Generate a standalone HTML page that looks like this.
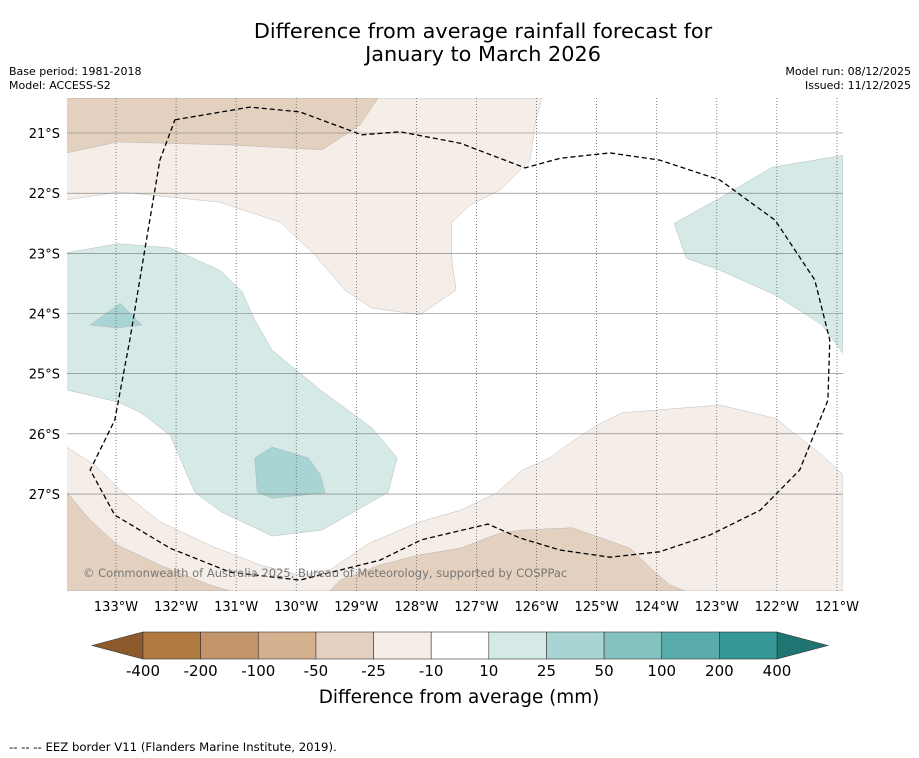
<!DOCTYPE html>
<html><head><meta charset="utf-8"><style>
body{margin:0;background:#fff;font-family:"DejaVu Sans","Liberation Sans",sans-serif;}
svg{display:block}
</style></head><body>
<svg width="919" height="758" viewBox="0 0 919 758" id="chart">
<text x="483" y="38" text-anchor="middle" font-size="20.8">Difference from average rainfall forecast for</text>
<text x="483" y="61" text-anchor="middle" font-size="20.8">January to March 2026</text>
<text x="9" y="75" font-size="11">Base period: 1981-2018</text>
<text x="9" y="89" font-size="11">Model: ACCESS-S2</text>
<text x="911" y="75" font-size="11" text-anchor="end">Model run: 08/12/2025</text>
<text x="911" y="89" font-size="11" text-anchor="end">Issued: 11/12/2025</text>
<g id="map"></g>
<g id="cbar"></g>
<text x="459" y="703" text-anchor="middle" font-size="18.4">Difference from average (mm)</text>
<text x="9" y="751" font-size="11.7">--  --  -- EEZ border V11 (Flanders Marine Institute, 2019).</text>
</svg>
<script>
const lonTicks=[133,132,131,130,129,128,127,126,125,124,123,122,121];
const latTicks=[21,22,23,24,25,26,27];
const cbLabels=["-400","-200","-100","-50","-25","-10","10","25","50","100","200","400"];
const cbColors=["#b07a40","#c3956a","#d5b08e","#e3d0bf","#f5eee8","#ffffff","#d5e9e7","#a8d5d4","#84c2c0","#5aacaa","#339896"];
// contour polygons [lonW, latS]
const lightTanTop=[[133.82,20.42],[125.91,20.42],[126.01,20.78],[126.11,21.45],[126.61,21.95],[127.11,22.20],[127.41,22.48],[127.41,23.11],[127.34,23.61],[127.94,24.02],[128.74,23.91],[129.19,23.61],[129.69,23.03],[130.27,22.48],[131.27,22.15],[132.93,21.98],[133.82,22.11]];
const tanTop=[[133.82,20.42],[128.64,20.42],[128.94,20.87],[129.57,21.28],[131.10,21.20],[132.97,21.15],[133.82,21.33]];
const greenLeft=[[133.82,22.99],[132.97,22.84],[132.10,22.91],[131.27,23.28],[130.90,23.64],[130.69,24.11],[130.40,24.61],[129.60,25.27],[128.74,25.90],[128.32,26.40],[128.47,26.97],[129.57,27.60],[130.40,27.70],[131.24,27.30],[131.69,26.97],[132.10,26.02],[132.60,25.64],[132.97,25.47],[133.82,25.27]];
const greenPatch1=[[133.43,24.19],[132.93,23.83],[132.57,24.19],[132.97,24.24]];
const greenPatch2=[[130.69,26.40],[130.40,26.22],[129.80,26.40],[129.60,26.68],[129.52,26.98],[130.40,27.07],[130.65,26.97]];
const greenRight=[[123.71,22.50],[122.95,22.08],[122.08,21.57],[120.90,21.37],[120.90,24.66],[121.25,24.19],[122.03,23.69],[122.95,23.28],[123.51,23.08]];
const lightTanBottom=[[133.82,26.22],[133.35,26.52],[132.93,26.93],[132.27,27.46],[131.44,27.85],[130.60,28.18],[129.94,28.35],[129.44,28.26],[128.77,27.81],[127.94,27.46],[127.27,27.27],[126.66,26.98],[126.24,26.60],[125.78,26.40],[125.44,26.15],[124.98,25.85],[124.58,25.65],[122.95,25.52],[122.03,25.74],[121.25,26.35],[120.90,26.68],[120.90,28.61],[133.82,28.61]];
const tanBottomLeft=[[133.82,26.97],[133.43,27.43],[132.97,27.85],[132.27,28.18],[131.44,28.51],[131.10,28.61],[133.82,28.61]];
const tanBottomMid=[[129.44,28.61],[129.27,28.43],[128.61,28.18],[127.94,28.01],[127.27,27.90],[126.61,27.65],[126.24,27.60],[125.41,27.56],[124.44,27.90],[124.03,28.30],[123.78,28.51],[123.53,28.61]];
const eez=[[132.02,20.78],[130.77,20.57],[129.94,20.65],[128.91,21.03],[128.27,20.98],[127.27,21.17],[126.19,21.58],[125.61,21.42],[124.78,21.33],[123.95,21.45],[122.95,21.78],[122.03,22.45],[121.37,23.44],[121.12,24.44],[121.15,25.44],[121.62,26.60],[122.28,27.27],[123.11,27.68],[123.95,27.96],[124.78,28.05],[125.61,27.93],[126.28,27.73],[126.81,27.50],[127.91,27.76],[128.61,28.10],[129.94,28.43],[131.10,28.30],[132.10,27.90],[133.02,27.35],[133.43,26.60],[133.02,25.77],[132.77,24.44],[132.52,22.94],[132.27,21.45],[132.02,20.78]];
const NS="http://www.w3.org/2000/svg";
const X0=67,X1=843,Y0=98,Y1=591;
function xS(lon){return 116+(133-lon)*60.08;}
function yS(lat){return 133+(lat-21)*60.17;}
function mk(tag,attrs,parent){const e=document.createElementNS(NS,tag);for(const k in attrs)e.setAttribute(k,attrs[k]);parent.appendChild(e);return e;}
const map=document.getElementById('map');
const defs=mk('defs',{},map);
const cp=mk('clipPath',{id:'clip'},defs);
mk('rect',{x:X0,y:Y0,width:X1-X0,height:Y1-Y0},cp);
const g=mk('g',{'clip-path':'url(#clip)'},map);
function poly(pts,fill,name){const p=mk('polygon',{points:pts.map(q=>xS(q[0]).toFixed(1)+','+yS(q[1]).toFixed(1)).join(' '),fill:fill,stroke:'#999','stroke-width':0.3},g);

}
poly(lightTanTop,cbColors[4],'contour-light-tan-top');
poly(tanTop,cbColors[3],'contour-tan-top');
poly(greenLeft,cbColors[6],'contour-green-left');
poly(greenPatch1,cbColors[7],'contour-green-patch-1');
poly(greenPatch2,cbColors[7],'contour-green-patch-2');
poly(greenRight,cbColors[6],'contour-green-right');
poly(lightTanBottom,cbColors[4],'contour-light-tan-bottom');
poly(tanBottomLeft,cbColors[3],'contour-tan-bottom-left');
poly(tanBottomMid,cbColors[3],'contour-tan-bottom-mid');
latTicks.forEach(l=>{const y=yS(l);
const ln=mk('line',{x1:X0,x2:X1,y1:y,y2:y,stroke:'#777','stroke-width':0.6},g);


const t=mk('text',{x:60,y:y+5,'text-anchor':'end','font-size':13},map);t.textContent=l+'°S';

});
lonTicks.forEach(l=>{const x=xS(l);
const ln=mk('line',{x1:x,x2:x,y1:Y0,y2:Y1,stroke:'#555','stroke-width':0.7,'stroke-dasharray':'1,2'},g);


const t=mk('text',{x:x,y:611,'text-anchor':'middle','font-size':13},map);t.textContent=l+'°W';

});
const e=mk('polyline',{points:eez.map(q=>xS(q[0]).toFixed(1)+','+yS(q[1]).toFixed(1)).join(' '),fill:'none',stroke:'#000','stroke-width':1.3,'stroke-dasharray':'5,3'},g);


const cr=mk('text',{x:83,y:577,'font-size':11.5,fill:'#777'},map);cr.textContent='© Commonwealth of Australia 2025, Bureau of Meteorology, supported by COSPPac';


// colorbar
const cb=document.getElementById('cbar');
const cx0=143,cx1=777,cy=632,ch=27,bw=(cx1-cx0)/cbColors.length;
const lt=mk('polygon',{points:`92,${cy+ch/2} ${cx0},${cy} ${cx0},${cy+ch}`,fill:'#8c5a2b',stroke:'#333','stroke-width':0.6},cb);


const rt=mk('polygon',{points:`828,${cy+ch/2} ${cx1},${cy} ${cx1},${cy+ch}`,fill:'#1f7572',stroke:'#333','stroke-width':0.6},cb);


cbColors.forEach((c,i)=>{const r=mk('rect',{x:cx0+i*bw,y:cy,width:bw,height:ch,fill:c,stroke:'#333','stroke-width':0.6},cb);

});
cbLabels.forEach((s,i)=>{const t=mk('text',{x:cx0+i*bw,y:676,'text-anchor':'middle','font-size':15},cb);t.textContent=s;

});
</script>
</body></html>
